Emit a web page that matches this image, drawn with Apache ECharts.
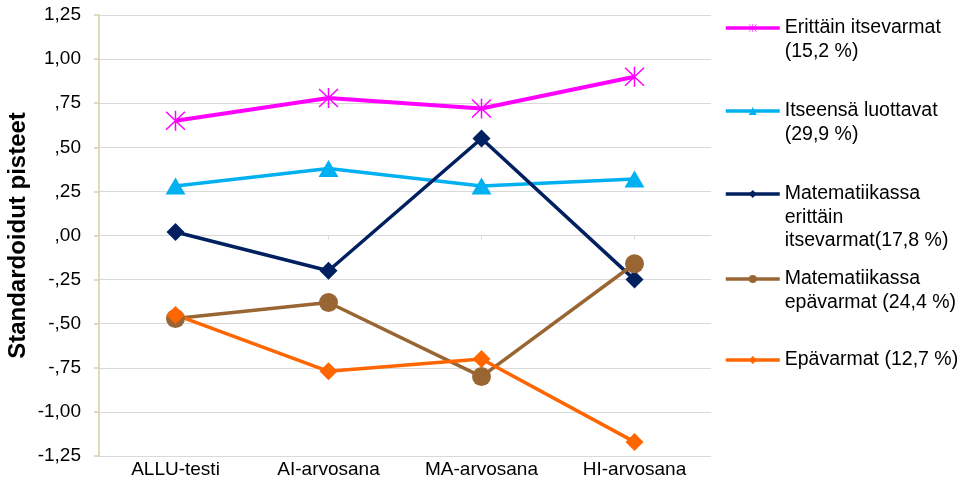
<!DOCTYPE html>
<html>
<head>
<meta charset="utf-8">
<script src="https://cdn.jsdelivr.net/npm/echarts@6/dist/echarts.min.js"></script>
<style>
html,body{margin:0;padding:0;background:#fff;}
#c{width:965px;height:492px;}
</style>
</head>
<body>
<div id="c"></div>
<script>
const categories = ['ALLU-testi', 'AI-arvosana', 'MA-arvosana', 'HI-arvosana'];
const seriesNames = [
  'Erittäin itsevarmat\n(15,2 %)',
  'Itseensä luottavat\n(29,9 %)',
  'Matematiikassa\nerittäin\nitsevarmat(17,8 %)',
  'Matematiikassa\nepävarmat (24,4 %)',
  'Epävarmat (12,7 %)'
];
const erittainItsevarmat = [0.65, 0.78, 0.72, 0.90];
const itseensaLuottavat = [0.28, 0.38, 0.28, 0.32];
const matErittainItsevarmat = [0.02, -0.20, 0.55, -0.25];
const matEpavarmat = [-0.47, -0.38, -0.80, -0.16];
const epavarmat = [-0.45, -0.77, -0.70, -1.17];
const yMin = -1.25, yMax = 1.25, yStep = 0.25;
const yAxisTitle = 'Standardoidut pisteet';

const FONT = '"Liberation Sans", Arial, sans-serif';
const colors = ['#FF00FF', '#00B0F0', '#002060', '#996633', '#FF6600'];
const asterisk = 'path://M9.3 0 L10.7 0 L10.7 20 L9.3 20 Z M0.5 1.5 L1.5 0.5 L19.5 18.5 L18.5 19.5 Z M18.5 0.5 L19.5 1.5 L1.5 19.5 L0.5 18.5 Z';
const symbols = [asterisk, 'triangle', 'diamond', 'circle', 'diamond'];
const symbolSizes = [20, [20, 17], 18, 19, 18];
const lineWidths = [4, 3.5, 3.5, 3.5, 3.5];
const allData = [erittainItsevarmat, itseensaLuottavat, matErittainItsevarmat, matEpavarmat, epavarmat];

function fmt(v) {
  const a = Math.abs(v);
  let s = a.toFixed(2).replace('.', ',');
  if (a < 1) s = s.replace(/^0/, '');
  return (v < 0 ? '-' : '') + s;
}

const legendIconY = [28, 111, 194, 279, 360];
const LH = 23.5;
const legends = seriesNames.map((name, i) => {
  const n = name.split('\n').length;
  return {
    left: 724,
    top: legendIconY[i] - (2 * n - 1) * LH / 2,
    orient: 'vertical',
    padding: 0,
    itemWidth: 54,
    itemHeight: 10,
    itemGap: 0,
    selectedMode: false,
    lineStyle: { width: 3.5 },
    textStyle: { fontFamily: FONT, fontSize: 19.5, lineHeight: LH, color: '#000' },
    formatter: function (nm) { return '\n'.repeat(n - 1) + nm; },
    data: [name]
  };
});

const chart = echarts.init(document.getElementById('c'), null, { renderer: 'canvas' });
chart.setOption({
  animation: false,
  backgroundColor: '#fff',
  grid: { left: 99, right: 254, top: 15, bottom: 36, containLabel: false, outerBoundsMode: 'none' },
  legend: legends,
  xAxis: [
    {
      type: 'category',
      data: categories,
      position: 'bottom',
      boundaryGap: true,
      axisLine: { show: false, onZero: false },
      axisTick: { show: false },
      axisLabel: { fontFamily: FONT, fontSize: 19, color: '#000', margin: 4 }
    },
    {
      type: 'category',
      data: categories,
      position: 'bottom',
      boundaryGap: true,
      axisLine: { show: true, onZero: true, lineStyle: { color: '#d9d9d9', width: 1 } },
      axisTick: { show: true, alignWithLabel: true, length: 4, lineStyle: { color: '#d9d9d9' } },
      axisLabel: { show: false }
    }
  ],
  yAxis: {
    type: 'value',
    min: yMin,
    max: yMax,
    interval: yStep,
    name: yAxisTitle,
    nameLocation: 'middle',
    nameGap: 69,
    nameMoveOverlap: false,
    nameTextStyle: { fontFamily: FONT, fontSize: 24, fontWeight: 'bold', color: '#000' },
    axisLine: { show: true, lineStyle: { color: '#D6D0A6', width: 1.5 } },
    axisTick: { show: true, length: 5, lineStyle: { color: '#D6D0A6', width: 1.5 } },
    axisLabel: { fontFamily: FONT, fontSize: 19, color: '#000', margin: 18, formatter: fmt },
    splitLine: { show: true, lineStyle: { color: '#d9d9d9', width: 1 } }
  },
  series: seriesNames.map((name, i) => ({
    name: name,
    type: 'line',
    xAxisIndex: 0,
    data: allData[i],
    symbol: symbols[i],
    symbolSize: symbolSizes[i],
    showAllSymbol: true,
    lineStyle: { color: colors[i], width: lineWidths[i] },
    itemStyle: { color: colors[i], opacity: 1 },
    emphasis: { disabled: true }
  }))
});
</script>
</body>
</html>
